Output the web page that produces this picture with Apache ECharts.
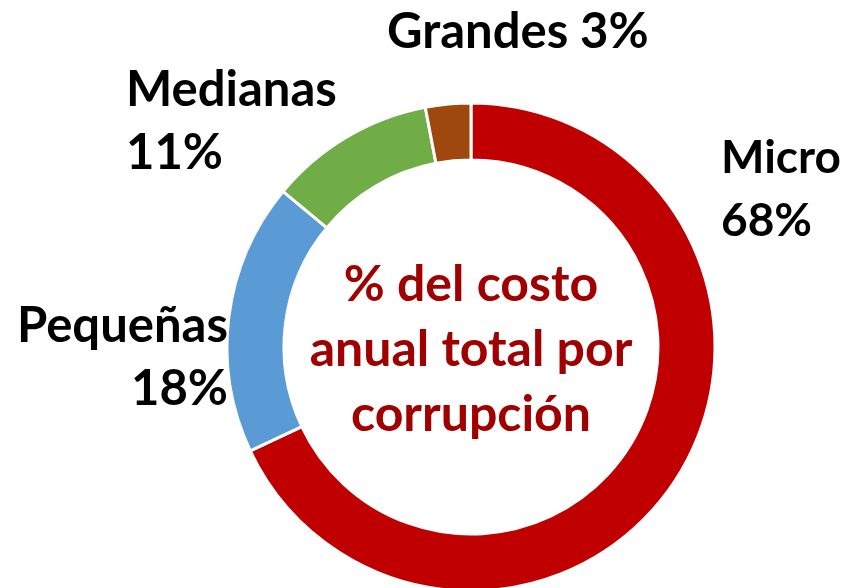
<!DOCTYPE html>
<html>
<head>
<meta charset="utf-8">
<script src="https://cdn.jsdelivr.net/npm/echarts@6/dist/echarts.min.js"></script>
<style>
  html, body { margin: 0; padding: 0; background: #fff; }
  #main { width: 846px; height: 588px; }
</style>
</head>
<body>
<div id="main"></div>
<script>
var categories = ['Micro', 'Pequeñas', 'Medianas', 'Grandes'];
var values = [68, 18, 11, 3];
var colors = ['#C00000', '#5B9BD5', '#70AD47', '#9E480E'];
var centerText = '% del costo\nanual total por\ncorrupción';

// where each label sits (top-left / top-right anchor)
var labelPos = {
    'Micro':    { x: 721, y: 127, align: 'left' },
    'Pequeñas': { x: 228, y: 295, align: 'right' },
    'Medianas': { x: 126, y: 59, align: 'left' },
    'Grandes':  { x: 387, y: 1, align: 'left' }
};

var myChart = echarts.init(document.getElementById('main'));

myChart.setOption({
    animation: false,
    color: colors,
    graphic: [{
        type: 'text',
        x: 471, y: 350,
        style: {
            text: centerText,
            fill: '#A00000',
            font: 'bold 50px Lato',
            lineHeight: 65,
            align: 'center',
            verticalAlign: 'middle'
        }
    }],
    series: [{
        type: 'pie',
        center: [471, 347],
        radius: [187, 244],
        startAngle: 90,
        clockwise: true,
        avoidLabelOverlap: false,
        itemStyle: { borderColor: '#fff', borderWidth: 3 },
        label: {
            show: true,
            position: 'outside',
            fontFamily: 'Lato',
            fontWeight: 'bold',
            fontSize: 49,
            lineHeight: 63,
            color: '#000',
            formatter: function (p) {
                var pct = Math.round(p.percent) + '%';
                return p.name === 'Grandes' ? p.name + ' ' + pct : p.name + '\n' + pct;
            }
        },
        labelLine: { show: false },
        labelLayout: function (p) {
            var lp = labelPos[categories[p.dataIndex]];
            return { x: lp.x, y: lp.y, align: lp.align, verticalAlign: 'top' };
        },
        data: categories.map(function (c, i) {
            var d = { name: c, value: values[i] };
            if (c === 'Micro') d.label = { fontSize: 46 };
            return d;
        })
    }]
});
</script>
</body>
</html>
